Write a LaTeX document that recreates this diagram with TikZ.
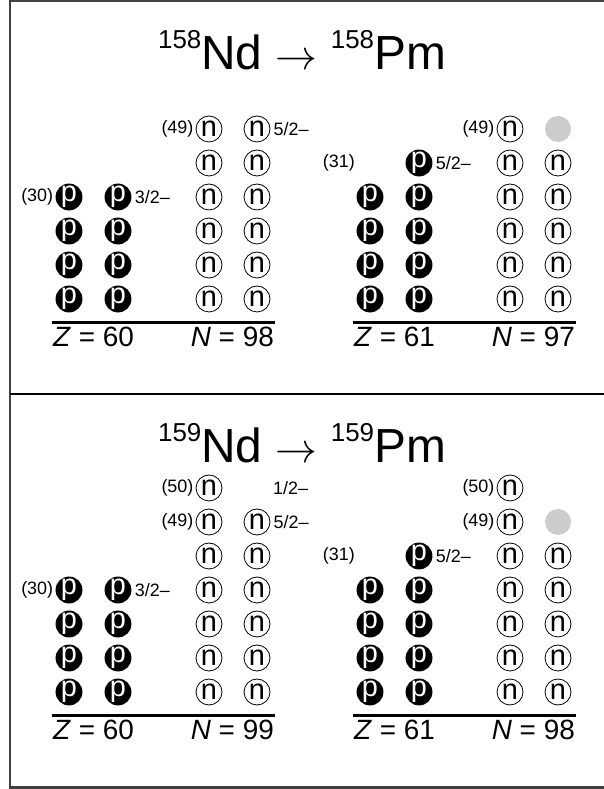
\documentclass[tikz,border=0pt]{standalone}
\usepackage{fontspec}
\setmainfont{Liberation Sans}
\usetikzlibrary{positioning}
\newcommand{\iso}[1]{\raisebox{21bp}{\fontsize{26}{26}\selectfont #1}}
\newcommand{\decayto}{\scalebox{4.2}{\fontsize{10}{10}\selectfont$\rightarrow$}}
\tikzset{
	nuc/.style={circle, minimum size=26bp, inner sep=0pt, font=\fontsize{29}{29}\selectfont},
	proton/.style={nuc, fill=black, text=white},
	neutron/.style={nuc, draw, line width=0.8bp},
	hole/.style={nuc, fill=black!20},
	tag/.style={font=\fontsize{18}{18}\selectfont, inner sep=0pt},
	tally/.style={font=\fontsize{28}{28}\selectfont, inner sep=0pt},
	heading/.style={font=\fontsize{48}{48}\selectfont, inner sep=0pt},
	floor/.style={line width=2.5bp}
}

\begin{document}
\begin{tikzpicture}[x=1bp, y=1bp]
	\useasboundingbox (0,0) rectangle (604,789);
	% --- Frame ---
	\draw[line width=2bp, black!75] (9.5,1.5) rectangle (613,787.5);
	\draw[line width=2bp] (9.5,395) -- (613,395);
	
	% --- Titles ---
	\node[heading, anchor=base] (title1) at (302,719) {\iso{158}Nd \decayto{} \iso{158}Pm};
	\node[heading, anchor=base] (title2) at (302,326) {\iso{159}Nd \decayto{} \iso{159}Pm};
	
	% --- Top left: 158Nd ---
	\begin{scope}[shift={(0,490)}]
		% protons
		\foreach \r in {0,...,3} {
			\node[proton] (tlpa-\r) at (69,34*\r) {p};
			\node[proton] (tlpb-\r) at (118,34*\r) {p};
		}
		% neutrons
		\foreach \r in {0,...,5} {
			\node[neutron] (tlna-\r) at (209,34*\r) {n};
			\node[neutron] (tlnb-\r) at (257,34*\r) {n};
		}
		% Labels
		\node[tag, left=2bp of tlpa-3] (tl30) {(30)};
		\node[tag, right=3bp of tlpb-3] (tl32) {3/2--};
		\node[tag, left=2bp of tlna-5] (tl49) {(49)};
		\node[tag, right=3bp of tlnb-5] (tl52) {5/2--};
		\draw[floor] (52,-23.5) -- (275,-23.5);
		\node[tally, anchor=base west] (tlz) at (53,-48) {\textit{Z} = 60};
		\node[tally, anchor=base east] (tln) at (274,-48) {\textit{N} = 98};
	\end{scope}
	
	% --- Top right: 158Pm ---
	\begin{scope}[shift={(301,490)}]
		% protons
		\foreach \r in {0,...,3} {
			\node[proton] (trpa-\r) at (69,34*\r) {p};
			\node[proton] (trpb-\r) at (118,34*\r) {p};
		}
		\coordinate (trslot) at (69,136);
		\node[proton] (trpb-4) at (118,136) {p};
		% neutrons
		\foreach \r in {0,...,5} \node[neutron] (trna-\r) at (209,34*\r) {n};
		\foreach \r in {0,...,4} \node[neutron] (trnb-\r) at (257,34*\r) {n};
		\node[hole] (trhole) at (257,170) {};
		% Labels
		\node[tag, left=15bp of trslot] (tr31) {(31)};
		\node[tag, right=3bp of trpb-4] (tr52) {5/2--};
		\node[tag, left=2bp of trna-5] (tr49) {(49)};
		\draw[floor] (52,-23.5) -- (275,-23.5);
		\node[tally, anchor=base west] (trz) at (53,-48) {\textit{Z} = 61};
		\node[tally, anchor=base east] (trn) at (274,-48) {\textit{N} = 97};
	\end{scope}
	
	% --- Bottom left: 159Nd ---
	\begin{scope}[shift={(0,97)}]
		% protons
		\foreach \r in {0,...,3} {
			\node[proton] (blpa-\r) at (69,34*\r) {p};
			\node[proton] (blpb-\r) at (118,34*\r) {p};
		}
		% neutrons
		\foreach \r in {0,...,6} \node[neutron] (blna-\r) at (209,34*\r) {n};
		\foreach \r in {0,...,5} \node[neutron] (blnb-\r) at (257,34*\r) {n};
		\coordinate (blslot) at (257,204);
		% Labels
		\node[tag, left=2bp of blpa-3] (bl30) {(30)};
		\node[tag, right=3bp of blpb-3] (bl32) {3/2--};
		\node[tag, left=2bp of blna-5] (bl49) {(49)};
		\node[tag, right=3bp of blnb-5] (bl52) {5/2--};
		\node[tag, left=2bp of blna-6] (bl50) {(50)};
		\node[tag, right=16bp of blslot] (bl12) {1/2--};
		\draw[floor] (52,-23.5) -- (275,-23.5);
		\node[tally, anchor=base west] (blz) at (53,-48) {\textit{Z} = 60};
		\node[tally, anchor=base east] (bln) at (274,-48) {\textit{N} = 99};
	\end{scope}
	
	% --- Bottom right: 159Pm ---
	\begin{scope}[shift={(301,97)}]
		% protons
		\foreach \r in {0,...,3} {
			\node[proton] (brpa-\r) at (69,34*\r) {p};
			\node[proton] (brpb-\r) at (118,34*\r) {p};
		}
		\coordinate (brslot) at (69,136);
		\node[proton] (brpb-4) at (118,136) {p};
		% neutrons
		\foreach \r in {0,...,6} \node[neutron] (brna-\r) at (209,34*\r) {n};
		\foreach \r in {0,...,4} \node[neutron] (brnb-\r) at (257,34*\r) {n};
		\node[hole] (brhole) at (257,170) {};
		% Labels
		\node[tag, left=15bp of brslot] (br31) {(31)};
		\node[tag, right=3bp of brpb-4] (br52) {5/2--};
		\node[tag, left=2bp of brna-5] (br49) {(49)};
		\node[tag, left=2bp of brna-6] (br50) {(50)};
		\draw[floor] (52,-23.5) -- (275,-23.5);
		\node[tally, anchor=base west] (brz) at (53,-48) {\textit{Z} = 61};
		\node[tally, anchor=base east] (brn) at (274,-48) {\textit{N} = 98};
	\end{scope}
\end{tikzpicture}
\end{document}
